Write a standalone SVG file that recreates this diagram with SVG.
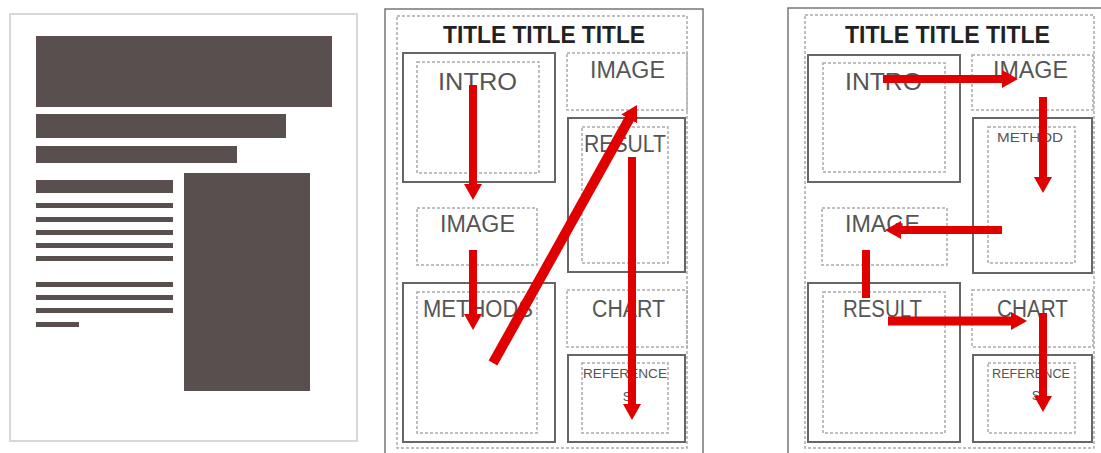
<svg xmlns="http://www.w3.org/2000/svg" width="1101" height="453" viewBox="0 0 1101 453">
<defs>
<style>
.bar{fill:#5a4f4f}
.page{fill:#fff;stroke:#d8d8d8;stroke-width:2}
.outer{fill:none;stroke:#777;stroke-width:1.5}
.dash{fill:none;stroke:#aaa;stroke-width:1.5;stroke-dasharray:3 2}
.solid{fill:none;stroke:#666;stroke-width:2}
.title{font-family:"Liberation Sans",Arial,sans-serif;font-weight:bold;font-size:24px;fill:#222}
.lbl{font-family:"Liberation Sans",Arial,sans-serif;font-size:23px;fill:#555}
.sm{font-family:"Liberation Sans",Arial,sans-serif;font-size:13px;fill:#555}
.arr{stroke:#e00000;stroke-width:8;fill:none;marker-end:url(#ah)}
.arrn{stroke:#e00000;stroke-width:8;fill:none}
</style>
<marker id="ah" markerUnits="userSpaceOnUse" viewBox="0 0 16 18" refX="2" refY="9" markerWidth="16" markerHeight="18" orient="auto">
<path d="M0,0 L16,9 L0,18 z" fill="#e00000"/>
</marker>
</defs>
<rect width="1101" height="453" fill="#fff"/>

<g id="panel1">
<rect class="page" x="10" y="14" width="347" height="427"/>
<rect class="bar" x="36" y="36" width="296" height="71"/>
<rect class="bar" x="36" y="114" width="250" height="24"/>
<rect class="bar" x="36" y="146" width="201" height="17"/>
<rect class="bar" x="36" y="180" width="137" height="13"/>
<rect class="bar" x="36" y="203" width="137" height="5"/>
<rect class="bar" x="36" y="217" width="137" height="5"/>
<rect class="bar" x="36" y="230" width="137" height="5"/>
<rect class="bar" x="36" y="243" width="137" height="5"/>
<rect class="bar" x="36" y="256" width="137" height="5"/>
<rect class="bar" x="36" y="282" width="137" height="5"/>
<rect class="bar" x="36" y="295" width="137" height="5"/>
<rect class="bar" x="36" y="308" width="137" height="5"/>
<rect class="bar" x="36" y="322" width="43" height="5"/>
<rect class="bar" x="184" y="173" width="126" height="218"/>
</g>

<g id="panel2">
<rect class="outer" x="385" y="9" width="318" height="450"/>
<rect class="dash" x="397" y="16" width="290" height="432"/>
<text class="title" x="443" y="43" textLength="202" lengthAdjust="spacingAndGlyphs">TITLE TITLE TITLE</text>
<g id="p2-intro">
<rect class="solid" x="403" y="53" width="152" height="129"/>
<rect class="dash" x="417" y="62" width="122" height="111"/>
<text class="lbl" x="438" y="90" textLength="79" lengthAdjust="spacingAndGlyphs">INTRO</text>
</g>
<g id="p2-image-top">
<rect class="dash" x="567" y="53" width="120" height="57"/>
<text class="lbl" x="590" y="78" textLength="75" lengthAdjust="spacingAndGlyphs">IMAGE</text>
</g>
<g id="p2-result">
<rect class="solid" x="568" y="118" width="117" height="154"/>
<rect class="dash" x="582" y="127" width="86" height="136"/>
<text class="lbl" x="584" y="152" textLength="82" lengthAdjust="spacingAndGlyphs">RESULT</text>
</g>
<g id="p2-image-left">
<rect class="dash" x="417" y="208" width="120" height="57"/>
<text class="lbl" x="440" y="232" textLength="75" lengthAdjust="spacingAndGlyphs">IMAGE</text>
</g>
<g id="p2-methods">
<rect class="solid" x="403" y="283" width="152" height="159"/>
<rect class="dash" x="417" y="292" width="120" height="141"/>
<text class="lbl" x="423" y="317" textLength="110" lengthAdjust="spacingAndGlyphs">METHODS</text>
</g>
<g id="p2-chart">
<rect class="dash" x="567" y="290" width="120" height="57"/>
<text class="lbl" x="592" y="317" textLength="73" lengthAdjust="spacingAndGlyphs">CHART</text>
</g>
<g id="p2-references">
<rect class="solid" x="568" y="355" width="117" height="87"/>
<rect class="dash" x="582" y="363" width="86" height="70"/>
<text class="sm" x="583" y="378" textLength="84" lengthAdjust="spacingAndGlyphs">REFERENCE</text>
<text class="sm" x="627" y="401" text-anchor="middle">S</text>
</g>
</g>

<g id="panel3">
<rect class="outer" x="788" y="8" width="320" height="451"/>
<rect class="dash" x="805" y="15" width="289" height="433"/>
<text class="title" x="845" y="43" textLength="205" lengthAdjust="spacingAndGlyphs">TITLE TITLE TITLE</text>
<g id="p3-intro">
<rect class="solid" x="808" y="55" width="152" height="127"/>
<rect class="dash" x="823" y="63" width="122" height="109"/>
<text class="lbl" x="845" y="90" textLength="77" lengthAdjust="spacingAndGlyphs">INTRO</text>
</g>
<g id="p3-image-top">
<rect class="dash" x="972" y="55" width="121" height="55"/>
<text class="lbl" x="993" y="78" textLength="75" lengthAdjust="spacingAndGlyphs">IMAGE</text>
</g>
<g id="p3-method">
<rect class="solid" x="973" y="118" width="119" height="155"/>
<rect class="dash" x="988" y="127" width="87" height="136"/>
<text class="sm" x="997" y="142" textLength="66" lengthAdjust="spacingAndGlyphs">METHOD</text>
</g>
<g id="p3-image-left">
<rect class="dash" x="822" y="208" width="125" height="57"/>
<text class="lbl" x="845" y="232" textLength="75" lengthAdjust="spacingAndGlyphs">IMAGE</text>
</g>
<g id="p3-result">
<rect class="solid" x="808" y="283" width="152" height="159"/>
<rect class="dash" x="823" y="292" width="122" height="141"/>
<text class="lbl" x="843" y="317" textLength="79" lengthAdjust="spacingAndGlyphs">RESULT</text>
</g>
<g id="p3-chart">
<rect class="dash" x="972" y="290" width="121" height="57"/>
<text class="lbl" x="997" y="317" textLength="71" lengthAdjust="spacingAndGlyphs">CHART</text>
</g>
<g id="p3-references">
<rect class="solid" x="973" y="355" width="119" height="87"/>
<rect class="dash" x="988" y="363" width="87" height="70"/>
<text class="sm" x="992" y="378" textLength="78" lengthAdjust="spacingAndGlyphs">REFERENCE</text>
<text class="sm" x="1036" y="400" text-anchor="middle">S</text>
</g>
</g>

<g id="connectors">
<line class="arr" x1="473" y1="85" x2="473" y2="186"/>
<line class="arr" x1="473" y1="250" x2="473" y2="316"/>
<line class="arr" style="stroke-width:10" x1="493" y1="363" x2="630.2" y2="117.2"/>
<line class="arr" x1="632" y1="157" x2="632" y2="406"/>
<line class="arr" x1="883" y1="79" x2="1004" y2="79"/>
<line class="arr" x1="1043" y1="97" x2="1043" y2="179"/>
<line class="arr" x1="1002" y1="230" x2="899" y2="230"/>
<line class="arrn" x1="866" y1="250" x2="866" y2="298"/>
<line class="arr" style="stroke-width:9" x1="888" y1="321" x2="1013" y2="321"/>
<line class="arr" x1="1043" y1="313" x2="1043" y2="398"/>
</g>
</svg>
